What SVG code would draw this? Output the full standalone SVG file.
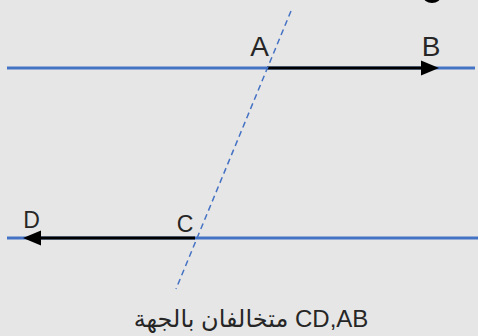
<svg xmlns="http://www.w3.org/2000/svg" width="478" height="336" viewBox="0 0 478 336">
  <style>
    .lbl { font-family: "Liberation Sans", "DejaVu Sans", sans-serif; fill: #262626; text-anchor: middle; }
    .blue { stroke: #4472c4; stroke-width: 3; fill: none; }
    .ray { stroke: #000; stroke-width: 3; fill: none; }
    .dash { stroke: #4472c4; stroke-width: 1.5; stroke-dasharray: 6 4; fill: none; }
  </style>
  <rect width="478" height="336" fill="#e7e6e6"/>
  <ellipse cx="432" cy="-4" rx="9" ry="7" fill="#000"/>
  <g id="connectors">
    <line class="blue" x1="7" y1="68" x2="475" y2="68"/>
    <line class="blue" x1="7" y1="238" x2="478" y2="238"/>
    <line class="ray" x1="267" y1="68" x2="424" y2="68"/>
    <polygon points="439,68 421,60.5 421,75.5" fill="#000"/>
    <line class="ray" x1="195" y1="238" x2="38" y2="238"/>
    <polygon points="23,238 41,230.5 41,245.5" fill="#000"/>
    <line class="dash" x1="291" y1="11" x2="176" y2="289"/>
  </g>
  <g id="A"><text class="lbl" x="259.5" y="56" font-size="28">A</text></g>
  <g id="B"><text class="lbl" x="431" y="56" font-size="28">B</text></g>
  <g id="C"><text class="lbl" x="185" y="232" font-size="23">C</text></g>
  <g id="D"><text class="lbl" x="31.5" y="228" font-size="23">D</text></g>
  <g id="caption"><text class="lbl" x="251" y="327" font-size="24" direction="rtl" unicode-bidi="embed">CD,AB متخالفان بالجهة</text></g>
</svg>
